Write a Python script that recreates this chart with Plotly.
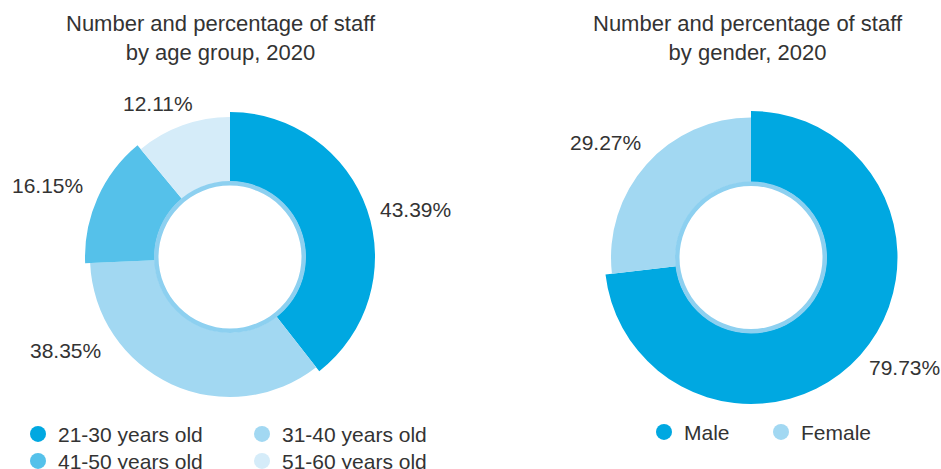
import plotly.graph_objects as go

# ---------------- data ----------------
age_groups = ["21-30 years old", "31-40 years old", "41-50 years old", "51-60 years old"]
age_pct = [43.39, 38.35, 16.15, 12.11]
genders = ["Male", "Female"]
gender_pct = [79.73, 29.27]
titles = ["Number and percentage of staff<br>by age group, 2020",
          "Number and percentage of staff<br>by gender, 2020"]

# ---------------- style ----------------
W, H = 941, 469
FONT = "Liberation Sans, Arial, sans-serif"
TXT = "#333333"
age_colors = ["#00A8E1", "#A2D8F2", "#55C1EA", "#D5ECF9"]
gender_colors = ["#00A8E1", "#A2D8F2"]
age_outer = [145, 140, 145, 140]
gender_outer = [146.5, 140]
INNER = 75.5
RING_BASE, RING_W, RING_COLOR = 71.5, 4.5, "#8DD0F0"
RMAX = 150


def wedges(values):
    tot = sum(values)
    widths = [v / tot * 360 for v in values]
    mids, acc = [], 0.0
    for w in widths:
        mids.append(acc + w / 2)
        acc += w
    return mids, widths


def pct(v):
    return f"{v:.2f}%"


fig = go.Figure()

for sub, vals, names, cols, outer, legs in [
    ("polar", age_pct, age_groups, age_colors, age_outer, ["legend", "legend", "legend2", "legend2"]),
    ("polar2", gender_pct, genders, gender_colors, gender_outer, ["legend3", "legend3"]),
]:
    mids, widths = wedges(vals)
    fig.add_trace(go.Barpolar(
        subplot=sub, theta=mids, width=widths,
        r=[o - INNER for o in outer], base=[INNER] * len(vals),
        marker=dict(color=cols, line=dict(width=0)),
        showlegend=False, hoverinfo="skip"))
    fig.add_trace(go.Barpolar(
        subplot=sub, theta=[90, 270], width=[180, 180],
        r=[RING_W, RING_W], base=[RING_BASE, RING_BASE],
        marker=dict(color=RING_COLOR, line=dict(width=0)),
        showlegend=False, hoverinfo="skip"))
    for name, col, lg in zip(names, cols, legs):
        fig.add_trace(go.Scatterpolar(
            subplot=sub, r=[None], theta=[None], mode="markers", name=name,
            marker=dict(color=col, size=17, symbol="circle"),
            legend=lg, showlegend=True, hoverinfo="skip"))


def dom(cx, cy, r=RMAX):
    return dict(x=[(cx - r) / W, (cx + r) / W], y=[(H - cy - r) / H, (H - cy + r) / H])


def polar_layout(cx, cy):
    return dict(
        domain=dom(cx, cy), bgcolor="rgba(0,0,0,0)", hole=0, bargap=0, barmode="overlay",
        radialaxis=dict(range=[0, RMAX], visible=False),
        angularaxis=dict(visible=False, direction="clockwise", rotation=90))


def px(x, y):
    return x / W, 1 - y / H


annotations = []
# titles
for t, cx in zip(titles, [221, 748]):
    x, y = px(cx, 9)
    annotations.append(dict(text=t, x=x, y=y, xref="paper", yref="paper", xanchor="center",
                            yanchor="top", showarrow=False, font=dict(size=22, color=TXT, family=FONT)))
# percentage labels
age_label_pos = [(415, 210), (65.5, 350), (47, 185), (158, 103.5)]
gender_label_pos = [(904.5, 367), (605.5, 142)]
for vals, pos in [(age_pct, age_label_pos), (gender_pct, gender_label_pos)]:
    for v, (lx, ly) in zip(vals, pos):
        x, y = px(lx, ly)
        annotations.append(dict(text=pct(v), x=x, y=y, xref="paper", yref="paper", xanchor="center",
                                yanchor="middle", showarrow=False, font=dict(size=21, color=TXT, family=FONT)))


def legend_cfg(left, top, ew):
    x, y = px(left, top)
    return dict(orientation="h", x=x, y=y, xanchor="left", yanchor="top", xref="paper", yref="paper",
                entrywidth=ew, entrywidthmode="pixels", bgcolor="rgba(0,0,0,0)", borderwidth=0,
                font=dict(size=21, color=TXT, family=FONT), itemclick=False, itemdoubleclick=False)


fig.update_layout(
    width=W, height=H,
    margin=dict(l=0, r=0, t=0, b=0, autoexpand=False),
    paper_bgcolor="white", plot_bgcolor="white",
    font=dict(family=FONT, color=TXT),
    polar=polar_layout(230, 257),
    polar2=polar_layout(751, 257.5),
    annotations=annotations,
    legend=legend_cfg(18, 413.8, 179),
    legend2=legend_cfg(18, 440.8, 179),
    legend3=legend_cfg(644, 411.8, 72),
)

fig.write_html("out.html")
